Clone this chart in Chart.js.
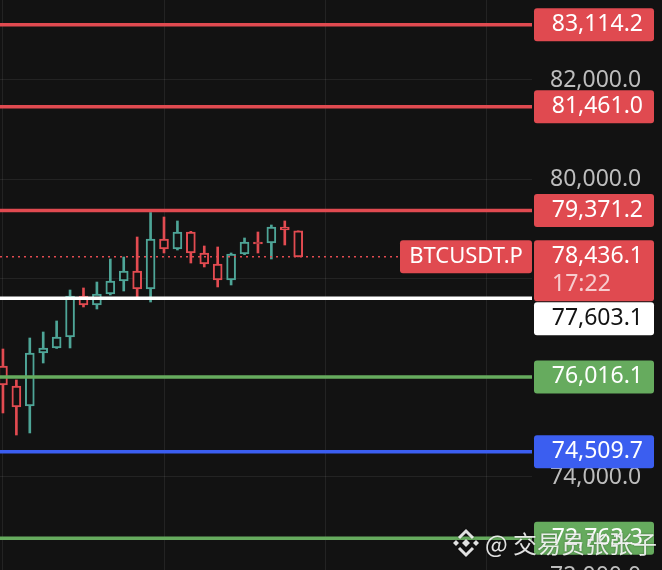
<!DOCTYPE html>
<html>
<head>
<meta charset="utf-8">
<script src="https://cdn.jsdelivr.net/npm/chart.js@4.4.1/dist/chart.umd.min.js"></script>
<style>
  html, body { margin: 0; padding: 0; background: #121212; overflow: hidden; }
  #wrap { width: 662px; height: 600px; }
</style>
</head>
<body>
<div id="wrap"><canvas id="chart"></canvas></div>
<script>
// candles, oldest -> newest
const candleOpen  = [76237, 75834, 75431, 76499, 76600, 76821, 77647, 77466, 77688, 77950, 78151, 77788, 78796, 78594, 78937, 78514, 78292, 77970, 78494, 78736, 78715, 79038, 78960];
const candleHigh  = [76579, 75955, 76801, 76922, 77144, 77768, 77809, 77929, 78393, 78433, 78836, 79330, 79239, 79159, 78950, 78655, 78635, 78514, 78816, 78937, 79078, 79159, 78960];
const candleLow   = [75290, 74846, 74887, 76297, 76590, 76600, 77426, 77385, 77668, 77748, 77587, 77526, 78514, 78574, 78312, 78232, 77829, 77869, 78480, 78514, 78393, 78675, 78436.1];
const candleClose = [75854, 75411, 76499, 76600, 76821, 77647, 77466, 77688, 77950, 78151, 77788, 78796, 78594, 78937, 78514, 78292, 77970, 78494, 78736, 78695, 79038, 78977, 78436.1];

// horizontal levels drawn on the chart
const levelPrices = [83114.2, 81461.0, 79371.2, 77603.1, 76016.1, 74509.7, 72763.3];
const lastPrice = 78436.1;
const symbolName = 'BTCUSDT.P';
const countdown = '17:22';
const gridPrices = [72000, 74000, 76000, 78000, 80000, 82000];
const priceTicks = [72000, 74000, 80000, 82000]; // the axis labels that are not hidden
const gridCandles = [0, 12, 24, 36];
const watermark = '@ 交易员张张子';

// colours
const BG = '#121212';
const UP = '#4ea597';
const DOWN = '#e24b51';
const RED = '#e04a50';
const GREEN = '#66ab5e';
const BLUE = '#3b5ef0';
const levelColors = [RED, RED, RED, '#ffffff', GREEN, BLUE, GREEN];
const levelTextColors = ['#fff', '#fff', '#fff', '#131313', '#fff', '#fff', '#fff'];
const gridColor = 'rgba(255,255,255,0.075)';
const FONT = '"Noto Sans", "Open Sans", sans-serif';

// visible range
const xMin = -0.22, xMax = 39.42;
const yMin = 71521, yMax = 83612;

const fmt = v => v.toLocaleString('en-US', { minimumFractionDigits: 1, maximumFractionDigits: 1 });
const candleColor = candleOpen.map((o, i) => candleClose[i] >= o ? UP : DOWN);

const wickData = candleHigh.map((h, i) => ({ x: i, y: [candleLow[i], h] }));
const bodyData = candleOpen.map((o, i) => ({ x: i, y: [o, candleClose[i]] }));

const levelSets = levelPrices.map((p, i) => ({
  type: 'line',
  data: [{ x: xMin, y: p }, { x: xMax, y: p }],
  borderColor: levelColors[i],
  borderWidth: 3.5,
  pointRadius: 0,
  order: -1
}));

const lastLine = {
  type: 'line',
  data: [{ x: xMin, y: lastPrice }, { x: xMax, y: lastPrice }],
  borderColor: DOWN,
  borderWidth: 1.5,
  borderDash: [2, 4],
  pointRadius: 0,
  order: -1
};

function roundBox(ctx, x, y, w, h, r, color) {
  ctx.fillStyle = color;
  ctx.beginPath();
  ctx.roundRect(x, y, w, h, r);
  ctx.fill();
}

const priceTags = {
  id: 'priceTags',
  afterDraw(chart) {
    const { ctx, chartArea, scales: { y } } = chart;
    const left = chartArea.right + 2, w = 120, h = 33;
    const tags = levelPrices.map((p, i) => ({ price: p, bg: levelColors[i], fg: levelTextColors[i] }));
    tags.push({ price: lastPrice, bg: RED, fg: '#fff', sub: countdown });
    tags.sort((a, b) => b.price - a.price);

    ctx.save();
    ctx.textBaseline = 'middle';
    let prevBottom = -Infinity;
    tags.forEach(t => {
      let top = y.getPixelForValue(t.price) - h / 2;
      const bh = t.sub ? 61 : h;
      if (top < prevBottom + 1) top = prevBottom + 1;
      prevBottom = top + bh;
      roundBox(ctx, left, top, w, bh, 3, t.bg);
      ctx.font = '23px ' + FONT;
      ctx.fillStyle = t.fg;
      ctx.textAlign = 'right';
      ctx.fillText(fmt(t.price), left + w - 11, top + h / 2);
      if (t.sub) {
        ctx.fillStyle = 'rgba(255,255,255,0.72)';
        ctx.textAlign = 'left';
        ctx.fillText(t.sub, left + 18, top + 44);
      }
      if (t.price === lastPrice) {
        // symbol tag to the left of the axis
        const sw = 132;
        roundBox(ctx, chartArea.right - sw, top, sw, h, 3, RED);
        ctx.font = '22px ' + FONT;
        ctx.fillStyle = '#fff';
        ctx.textAlign = 'center';
        ctx.fillText(symbolName, chartArea.right - sw / 2, top + h / 2);
      }
    });

    // watermark
    ctx.globalAlpha = 0.88;
    ctx.shadowColor = 'rgba(0,0,0,0.5)';
    ctx.shadowBlur = 2;
    ctx.fillStyle = '#ffffff';
    const cx = 466, cy = 543;
    const dia = (x0, y0, r) => {
      ctx.beginPath();
      ctx.moveTo(x0, y0 - r); ctx.lineTo(x0 + r, y0); ctx.lineTo(x0, y0 + r); ctx.lineTo(x0 - r, y0);
      ctx.closePath(); ctx.fill();
    };
    dia(cx, cy, 4);
    dia(cx - 10, cy, 3);
    dia(cx + 10, cy, 3);
    ctx.strokeStyle = '#ffffff';
    ctx.lineWidth = 3;
    ctx.beginPath();
    ctx.moveTo(cx - 7, cy - 5); ctx.lineTo(cx, cy - 12); ctx.lineTo(cx + 7, cy - 5);
    ctx.moveTo(cx - 7, cy + 5); ctx.lineTo(cx, cy + 12); ctx.lineTo(cx + 7, cy + 5);
    ctx.stroke();
    ctx.font = '24px "Noto Sans CJK SC", ' + FONT;
    ctx.textAlign = 'left';
    ctx.textBaseline = 'middle';
    ctx.fillText(watermark, 485, 544);
    ctx.restore();
  }
};

new Chart(document.getElementById('chart'), {
  type: 'bar',
  data: {
    datasets: [
      ...levelSets,
      lastLine,
      {
        data: bodyData,
        backgroundColor: BG,
        borderColor: candleColor,
        borderWidth: 2,
        borderSkipped: false,
        barThickness: 9,
        grouped: false,
        order: 0
      },
      {
        data: wickData,
        backgroundColor: candleColor,
        borderWidth: 0,
        barThickness: 2,
        grouped: false,
        order: 1
      }
    ]
  },
  options: {
    responsive: true,
    maintainAspectRatio: false,
    animation: false,
    layout: { padding: 0, autoPadding: false },
    plugins: { legend: { display: false }, tooltip: { enabled: false } },
    scales: {
      x: {
        type: 'linear',
        min: xMin,
        max: xMax,
        offset: false,
        border: { display: false },
        grid: { color: gridColor, drawTicks: false, offset: false },
        afterBuildTicks(scale) {
          scale.ticks = gridCandles.map(v => ({ value: v }));
        },
        ticks: { display: false }
      },
      y: {
        position: 'right',
        min: yMin,
        max: yMax,
        border: { display: false },
        grid: { color: gridColor, drawTicks: false },
        afterBuildTicks(scale) {
          scale.ticks = gridPrices.map(v => ({ value: v }));
        },
        afterFit(scale) {
          scale.width = 130;
          scale.paddingTop = 0;
          scale.paddingBottom = 0;
        },
        ticks: {
          autoSkip: false,
          crossAlign: 'near',
          padding: 18,
          color: '#bdbdbd',
          font: { family: FONT, size: 23 },
          callback: v => priceTicks.includes(v) ? fmt(v) : ''
        }
      }
    }
  },
  plugins: [priceTags]
});
</script>
</body>
</html>
